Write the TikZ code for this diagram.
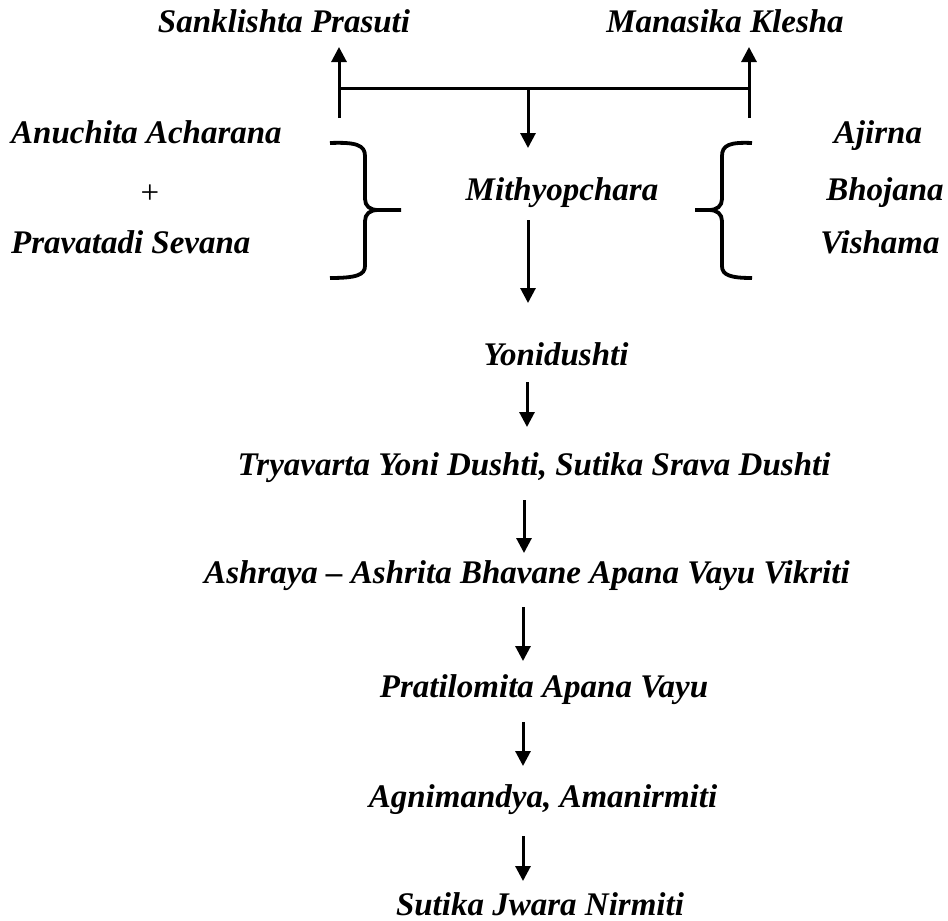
\documentclass[tikz,border=0pt]{standalone}
\usepackage{fontspec}
\setmainfont{Liberation Serif}
\usetikzlibrary{arrows.meta}
\tikzset{
  lbl/.style={inner sep=0pt, font=\fontsize{33}{40}\selectfont\bfseries\itshape},
  plainlbl/.style={inner sep=0pt, font=\fontsize{33}{40}\selectfont},
  arr/.style={line width=3pt, -{Triangle[length=15pt,width=15pt]}},
  ln/.style={line width=3pt},
  brace/.style={line width=3.8pt, line cap=butt}
}
\begin{document}
\begin{tikzpicture}[x=1pt,y=-1pt]
\useasboundingbox (0,0) rectangle (948,921);
% top labels
\node[lbl, anchor=base] (sankl) at (284,32) {Sanklishta Prasuti};
\node[lbl, anchor=base] (manas) at (725,32) {Manasika Klesha};
% left group
\node[lbl, anchor=base west] (anuch) at (11,143) {Anuchita Acharana};
\node[plainlbl, anchor=base] (plus) at (150,203) {+};
\node[lbl, anchor=base west] (pravat) at (11,253) {Pravatadi Sevana};
% centre
\node[lbl, anchor=base] (mithy) at (562,200) {Mithyopchara};
% right group
\node[lbl, anchor=base] (ajirna) at (878,143) {Ajirna};
\node[lbl, anchor=base] (bhoj) at (885,200) {Bhojana};
\node[lbl, anchor=base] (vish) at (880,253) {Vishama};
% chain
\node[lbl, anchor=base] (yoni) at (556,365) {Yonidushti};
\node[lbl, anchor=base] (tryav) at (534,475) {Tryavarta Yoni Dushti, Sutika Srava Dushti};
\node[lbl, anchor=base] (ashr) at (527,583) {Ashraya -- Ashrita Bhavane Apana Vayu Vikriti};
\node[lbl, anchor=base] (prati) at (544,697) {Pratilomita Apana Vayu};
\node[lbl, anchor=base] (agni) at (543,807) {Agnimandya, Amanirmiti};
\node[lbl, anchor=base] (sutika) at (540,915) {Sutika Jwara Nirmiti};

% coordinates of connector ends
\coordinate (lbot) at (339,118);
\coordinate (ltip) at (339,47);
\coordinate (rbot) at (749,118);
\coordinate (rtip) at (749,47);
\coordinate (hl) at (339,88);
\coordinate (hr) at (749,88);
\coordinate (hm) at (528,88);
\coordinate (mtip) at (528,148);
\coordinate (m2s) at (528,220);
\coordinate (m2t) at (528,303);
\coordinate (a1s) at (527,382);
\coordinate (a1t) at (527,427);
\coordinate (a2s) at (524,500);
\coordinate (a2t) at (524,553);
\coordinate (a3s) at (523,607);
\coordinate (a3t) at (523,661);
\coordinate (a4s) at (523,722);
\coordinate (a4t) at (523,766);
\coordinate (a5s) at (523,836);
\coordinate (a5t) at (523,881);

% top tree
\draw[arr] (lbot) -- (ltip);
\draw[arr] (rbot) -- (rtip);
\draw[ln] (hl) -- (hr);
\draw[arr] (hm) -- (mtip);
\draw[arr] (m2s) -- (m2t);

% chain arrows
\draw[arr] (a1s) -- (a1t);
\draw[arr] (a2s) -- (a2t);
\draw[arr] (a3s) -- (a3t);
\draw[arr] (a4s) -- (a4t);
\draw[arr] (a5s) -- (a5t);

% left brace
\draw[brace] (330,143) .. controls (356,142) and (365,145) .. (365,156) -- (365,199)
  .. controls (365,206) and (370,210) .. (378,210) -- (401,210);
\draw[brace] (378,210) .. controls (370,210) and (365,214) .. (365,221) -- (365,266)
  .. controls (365,275) and (356,278) .. (330,278);
% right brace
\draw[brace] (752,143) .. controls (730,142) and (722,145) .. (722,156) -- (722,199)
  .. controls (722,206) and (717,210) .. (709,210) -- (695,210);
\draw[brace] (709,210) .. controls (717,210) and (722,214) .. (722,221) -- (722,266)
  .. controls (722,275) and (730,278) .. (752,278);
\end{tikzpicture}
\end{document}
